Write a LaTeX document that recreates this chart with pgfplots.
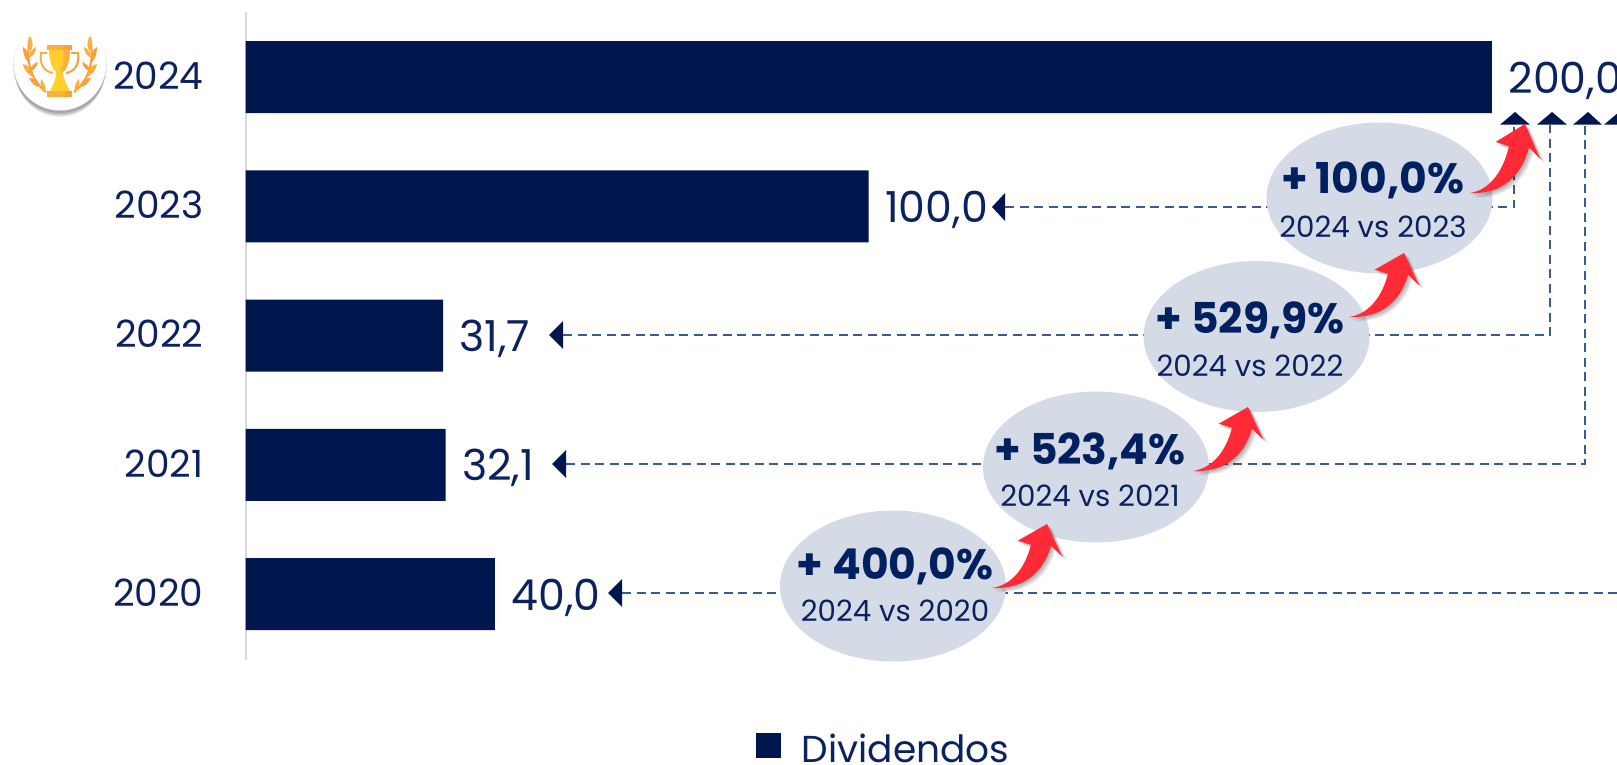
\documentclass[border=0pt]{standalone}
\usepackage{pgfplots}
\pgfplotsset{compat=1.18}
\usepackage{fontspec}
\setmainfont{Poppins}
\definecolor{navy}{HTML}{00164F}
\definecolor{txt}{HTML}{0B2160}
\definecolor{boldtxt}{HTML}{00205F}
\definecolor{dashc}{HTML}{3A5A9A}
\definecolor{ellc}{HTML}{D5DBE6}
\definecolor{redarrow}{HTML}{FF2A36}
\definecolor{goldc}{HTML}{FFCF2E}
\definecolor{amber}{HTML}{FBB03B}
\definecolor{dorange}{HTML}{F9A03A}
\newcommand{\fs}[1]{\fontsize{#1}{#1}\selectfont}
\newcommand{\bubtext}[5]{%
  \node[text=boldtxt,font=\fs{42.5}\bfseries] at (#1,#2) {#4};
  \node[text=txt,font=\fs{29.3}] at (#1,#3) {#5};
}
\newcommand{\arrowshape}{(0,0) .. controls (20,-3) and (33,-20) .. (39,-43.3) -- (25.7,-47.3) -- (55,-64) -- (70,-31.7) -- (59,-42.3) .. controls (49,-8) and (24,1) .. (0,0) -- cycle}
\newcommand{\swoosh}[3][1]{%
  \begin{scope}[shift={(#2,#3)},yscale=#1]
    \foreach \o in {1,2,3,4,5,6}{\fill[black,opacity=0.06,shift={(\o*0.8,\o*0.7)}] \arrowshape;}
    \fill[redarrow] \arrowshape;
  \end{scope}
}
\begin{document}
\begin{tikzpicture}[x=1pt,y=1pt]
\path[use as bounding box] (0,0) rectangle (1617,764);
\clip (0,0) rectangle (1617,764);
% main axis
\begin{axis}[
  at={(245.5pt,104pt)}, anchor=south west,
  scale only axis, width=1371.5pt, height=648pt,
  xmin=0, xmax=220.06, ymin=-0.5106, ymax=4.503,
  axis x line=none,
  axis y line=left,
  y axis line style={-,draw=black!15,line width=2pt},
  ytick={0,1,2,3,4},
  yticklabels={2020,2021,2022,2023,2024},
  major tick length=0pt,
  yticklabel style={text=txt,font=\fs{37.5},anchor=east,xshift=-38.5pt,yshift=1.5pt},
  clip=false,
  legend style={draw=none,fill=none,at={(0.372,-0.1367)},anchor=west,
    font=\fs{37.5},text=txt,inner sep=0pt,legend cell align=left},
  legend image code/.code={\fill[navy] (0pt,-9.5pt) rectangle (25pt,15.5pt);\path (44pt,0pt);},
  point meta=x,
  nodes near coords={\pgfmathprintnumber[assume math mode=true,fixed,fixed zerofill,precision=1,use comma]{\pgfplotspointmeta}},
  every node near coord/.append style={anchor=west,text=txt,font=\fs{42.7},xshift=13pt,yshift=-3.5pt},
]
\addplot[xbar,fill=navy,draw=none,bar width=72pt,bar shift=0pt] coordinates {
  (40.0,0) (32.1,1) (31.7,2) (100.0,3) (200.0,4)};
\addlegendentry{Dividendos}
\end{axis}
% overlay axis in pixel units: connectors
\begin{axis}[
  at={(0pt,0pt)}, anchor=south west,
  scale only axis, width=1617pt, height=764pt,
  xmin=0, xmax=1617, ymin=0, ymax=764, y dir=reverse,
  hide axis, clip=false,
]
\addplot[dashc,line width=1.7pt,dash pattern=on 9pt off 5.5pt] coordinates {(1005,207.3)(1514,207.3)(1514,125)};
\addplot[dashc,line width=1.7pt,dash pattern=on 9pt off 5.5pt] coordinates {(563,335)(1550,335)(1550,125)};
\addplot[dashc,line width=1.7pt,dash pattern=on 9pt off 5.5pt] coordinates {(566,464)(1585,464)(1585,125)};
\addplot[dashc,line width=1.7pt,dash pattern=on 9pt off 5.5pt] coordinates {(622,593)(1640,593)};
% left pointers
\addplot[navy,fill=navy,draw=none] coordinates {(992,207)(1005,193)(1005,221)(992,207)};
\addplot[navy,fill=navy,draw=none] coordinates {(549,335)(563,321)(563,349)(549,335)};
\addplot[navy,fill=navy,draw=none] coordinates {(552,464)(566,450)(566,478)(552,464)};
\addplot[navy,fill=navy,draw=none] coordinates {(608,593)(622,579)(622,607)(608,593)};
% up pointers
\addplot[navy,fill=navy,draw=none] coordinates {(1500,124.7)(1515,112)(1530,124.7)(1500,124.7)};
\addplot[navy,fill=navy,draw=none] coordinates {(1537,124.7)(1552,112)(1567,124.7)(1537,124.7)};
\addplot[navy,fill=navy,draw=none] coordinates {(1573,124.7)(1588,112)(1602,124.7)(1573,124.7)};
\addplot[navy,fill=navy,draw=none] coordinates {(1604,124.7)(1619,112)(1634,124.7)(1604,124.7)};
\end{axis}
% annotations in pixel space
\begin{scope}[yshift=764pt,x=1pt,y=-1pt]
  \fill[ellc] (1379.5,198) ellipse [x radius=113, y radius=75.5];
  \fill[ellc] (1256.5,336.5) ellipse [x radius=113, y radius=75.5];
  \fill[ellc] (1096,467) ellipse [x radius=113, y radius=75.5];
  \fill[ellc] (893,586) ellipse [x radius=113, y radius=75.5];
  \bubtext{1373}{180}{227}{+\,100,0\%}{2024 vs 2023}
  \bubtext{1250}{320}{366}{+ 529,9\%}{2024 vs 2022}
  \bubtext{1090}{451}{496}{+ 523,4\%}{2024 vs 2021}
  \bubtext{895}{566}{611}{+ 400,0\%}{2024 vs 2020}
  \swoosh{992}{588}
  \swoosh{1193}{471}
  \swoosh{1349}{317}
  \swoosh[1.08]{1470}{193}
  % trophy badge
  \foreach \o/\r in {1/47,2/46.5,3/46,4/45.5,5/45,6/44.5,7/44}{\fill[black,opacity=0.06] (60,64.5+\o*1.2) circle (\r);}
  \fill[white] (60,64.5) circle (46);
  % laurels
  \foreach \m in {1,-1}{
    \begin{scope}[shift={(60,0)},xscale=\m]
      \draw[dorange,line width=2] (-30,37) .. controls (-34,55) and (-32,78) .. (-14,92);
      \fill[amber] (-30,36) .. controls (-26,42) and (-27,48) .. (-30,52) .. controls (-32,46) and (-32,42) .. (-30,36) -- cycle;
      \fill[dorange] (-37,47) .. controls (-32,50) and (-30,56) .. (-32,62) .. controls (-36,58) and (-37,52) .. (-37,47) -- cycle;
      \fill[amber] (-37,64) .. controls (-31,65) and (-28,70) .. (-27,77) .. controls (-33,74) and (-36,70) .. (-37,64) -- cycle;
      \fill[dorange] (-31,78) .. controls (-25,78) and (-22,81) .. (-19,87) .. controls (-25,87) and (-28,84) .. (-31,78) -- cycle;
      \fill[amber] (-19,79) .. controls (-15,83) and (-14,88) .. (-15,93) .. controls (-19,90) and (-20,85) .. (-19,79) -- cycle;
      \fill[amber] (-24,47) .. controls (-24,52) and (-27,56) .. (-31,58) .. controls (-31,53) and (-28,49) .. (-24,47) -- cycle;
      \fill[dorange] (-22,62) .. controls (-23,67) and (-27,71) .. (-31,72) .. controls (-30,67) and (-26,63) .. (-22,62) -- cycle;
    \end{scope}
  }
  % handles
  \draw[amber,line width=2] (47,53) -- (41,53) .. controls (39,66) and (46,72) .. (53,73);
  \draw[dorange,line width=2] (71,53) -- (78,53) .. controls (80,66) and (73,72) .. (66,73);
  % stem and base
  \fill[goldc] (56,72) -- (63,72) .. controls (63,80) and (67,85) .. (70,91) -- (50,91) .. controls (53,85) and (56,80) .. (56,72) -- cycle;
  \fill[amber] (46.7,91) rectangle (72,97.3);
  \fill[dorange] (65,91) rectangle (72,97.3);
  % cup
  \fill[goldc] (49,49) -- (70,49) .. controls (70,62) and (66,73) .. (59.5,73) .. controls (53,73) and (49,62) .. (49,49) -- cycle;
  \fill[amber] (63,49) -- (70,49) .. controls (70,62) and (66,73) .. (59.5,73) .. controls (63,70) and (64,60) .. (63,49) -- cycle;
  \fill[amber] (47,45) rectangle (72,50);
  \fill[dorange] (65,45) rectangle (72,50);
\end{scope}
\end{tikzpicture}
\end{document}
